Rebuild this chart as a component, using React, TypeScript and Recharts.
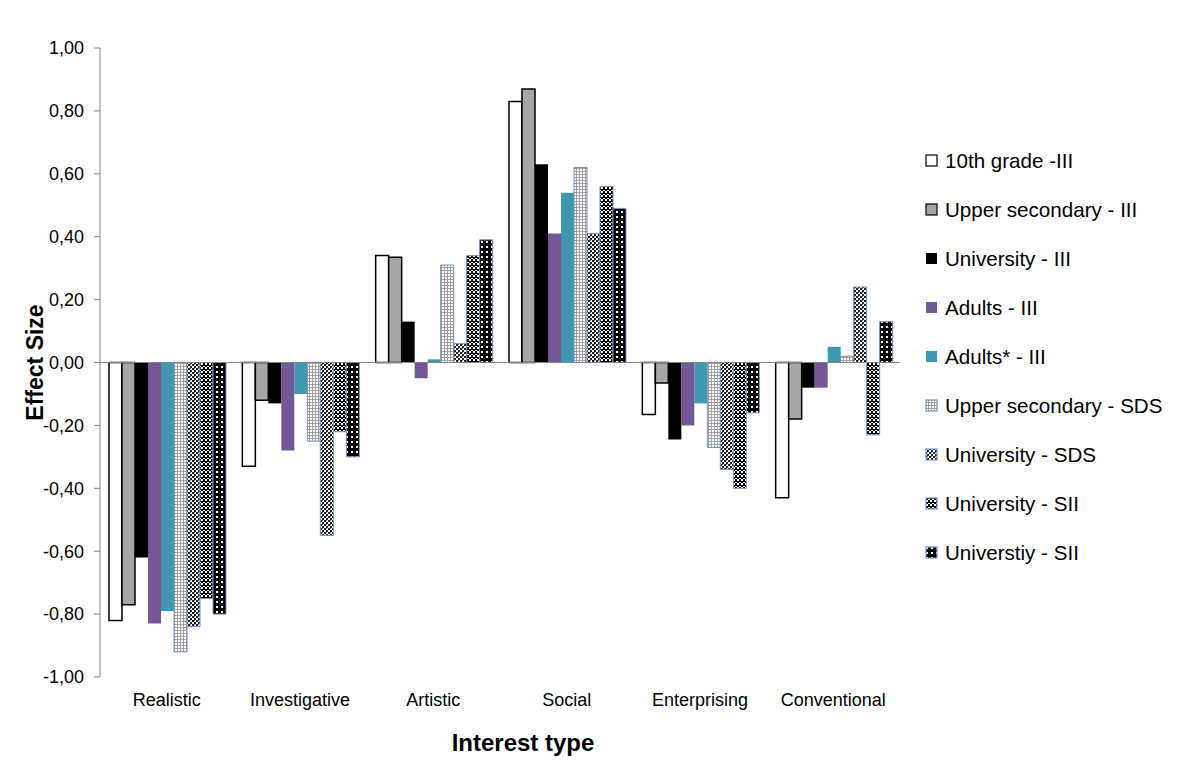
import React from 'react';
import { BarChart, Bar, XAxis, YAxis, ReferenceLine } from 'recharts';

const categories = ['Realistic', 'Investigative', 'Artistic', 'Social', 'Enterprising', 'Conventional'];

const tenthGradeIII = [-0.82, -0.33, 0.34, 0.83, -0.165, -0.43];
const upperSecondaryIII = [-0.77, -0.12, 0.335, 0.87, -0.065, -0.18];
const universityIII = [-0.62, -0.13, 0.13, 0.63, -0.245, -0.08];
const adultsIII = [-0.83, -0.28, -0.05, 0.41, -0.2, -0.08];
const adultsStarIII = [-0.79, -0.1, 0.01, 0.54, -0.13, 0.05];
const upperSecondarySDS = [-0.92, -0.25, 0.31, 0.62, -0.27, 0.02];
const universitySDS = [-0.84, -0.55, 0.06, 0.41, -0.34, 0.24];
const universitySII = [-0.75, -0.22, 0.34, 0.56, -0.4, -0.23];
const universtiySII = [-0.8, -0.3, 0.39, 0.49, -0.16, 0.13];

const yTicks = [-1, -0.8, -0.6, -0.4, -0.2, 0, 0.2, 0.4, 0.6, 0.8, 1];

const series = [
  { key: 's1', name: '10th grade -III', values: tenthGradeIII, fill: '#ffffff', stroke: '#000000', sw: 1.5 },
  { key: 's2', name: 'Upper secondary - III', values: upperSecondaryIII, fill: '#a6a6a6', stroke: '#000000', sw: 1.5 },
  { key: 's3', name: 'University - III', values: universityIII, fill: '#000000', stroke: 'none', sw: 0 },
  { key: 's4', name: 'Adults - III', values: adultsIII, fill: '#735895', stroke: 'none', sw: 0 },
  { key: 's5', name: 'Adults* - III', values: adultsStarIII, fill: '#3f98b0', stroke: 'none', sw: 0 },
  { key: 's6', name: 'Upper secondary - SDS', values: upperSecondarySDS, fill: 'url(#patLight)', stroke: '#6f93c4', sw: 1 },
  { key: 's7', name: 'University - SDS', values: universitySDS, fill: 'url(#patChecker)', stroke: '#6f93c4', sw: 1 },
  { key: 's8', name: 'University - SII', values: universitySII, fill: 'url(#patDiamond)', stroke: '#6f93c4', sw: 1 },
  { key: 's9', name: 'Universtiy - SII', values: universtiySII, fill: 'url(#patDots)', stroke: '#6f93c4', sw: 1 },
];

const data = categories.map((name, i) => {
  const row: any = { name };
  series.forEach((s) => {
    row[s.key] = s.values[i];
  });
  return row;
});

const font = '"Liberation Sans", Arial, sans-serif';

const fmt = (v: number) => (Math.abs(v) < 1e-9 ? '0,00' : v.toFixed(2).replace('.', ','));

const Patterns = () => (
  <svg width={0} height={0} style={{ position: 'absolute' }}>
    <defs>
      <pattern id="patLight" width={3} height={3} patternUnits="userSpaceOnUse">
        <rect width={3} height={3} fill="#ffffff" />
        <rect x={0} y={0} width={3} height={1} fill="#a0a0a0" />
        <rect x={0} y={0} width={1} height={3} fill="#a0a0a0" />
      </pattern>
      <pattern id="patChecker" width={4} height={4} patternUnits="userSpaceOnUse">
        <rect width={4} height={4} fill="#ffffff" />
        <rect x={0} y={0} width={2} height={2} fill="#222222" />
        <rect x={2} y={2} width={2} height={2} fill="#222222" />
        <rect x={2} y={0} width={1} height={1} fill="#777777" />
      </pattern>
      <pattern id="patDiamond" width={4} height={4} patternUnits="userSpaceOnUse">
        <rect width={4} height={4} fill="#000000" />
        <rect x={1} y={0} width={2} height={1} fill="#ffffff" />
        <rect x={0} y={2} width={1} height={1} fill="#ffffff" />
        <rect x={3} y={2} width={1} height={1} fill="#ffffff" />
        <rect x={1} y={3} width={2} height={1} fill="#ffffff" />
      </pattern>
      <pattern id="patDots" width={5} height={5} patternUnits="userSpaceOnUse">
        <rect width={5} height={5} fill="#000000" />
        <rect x={1} y={1} width={2} height={2} fill="#ffffff" />
      </pattern>
    </defs>
  </svg>
);

const LegendBox = () => (
  <div style={{ position: 'absolute', left: 925, top: 136, fontFamily: font, fontSize: 20.6, color: '#000' }}>
    {series.map((s) => (
      <div key={s.key} style={{ height: 49, display: 'flex', alignItems: 'center', whiteSpace: 'nowrap' }}>
        <svg width={13} height={13} style={{ marginRight: 7 }}>
          <rect
            x={1}
            y={1}
            width={11}
            height={11}
            fill={s.fill}
            stroke={s.stroke === 'none' ? s.fill : s.stroke}
            strokeWidth={s.stroke === 'none' ? 0 : 1.2}
          />
        </svg>
        <span>{s.name}</span>
      </div>
    ))}
  </div>
);

export default function App() {
  return (
    <div style={{ position: 'absolute', left: 0, top: 0, width: 1200, height: 775, background: '#fff', fontFamily: font }}>
      <Patterns />
      <BarChart
        width={1200}
        height={775}
        data={data}
        margin={{ top: 48, right: 300, bottom: 28, left: 0 }}
        barCategoryGap={9}
        barGap={0}
      >
        <YAxis
          width={100}
          domain={[-1, 1]}
          ticks={yTicks}
          interval={0}
          tickFormatter={fmt}
          axisLine={{ stroke: '#868686' }}
          tickLine={{ stroke: '#868686' }}
          tickSize={6}
          tickMargin={10}
          tick={{ fill: '#000', fontSize: 18, fontFamily: font }}
          label={{
            value: 'Effect Size',
            angle: -90,
            position: 'center',
            dx: -15,
            style: { fontSize: 23, fontWeight: 'bold', fill: '#000', fontFamily: font },
          }}
        />
        <XAxis
          dataKey="name"
          height={70}
          interval={0}
          axisLine={false}
          tickLine={false}
          tickSize={0}
          tickMargin={16}
          tick={{ fill: '#000', fontSize: 18, fontFamily: font }}
          label={{
            value: 'Interest type',
            position: 'center',
            dx: 23,
            dy: 30,
            style: { fontSize: 24, fontWeight: 'bold', fill: '#000', fontFamily: font },
          }}
        />
        <ReferenceLine y={0} stroke="#868686" strokeWidth={1} />
        {series.map((s) => (
          <Bar
            key={s.key}
            dataKey={s.key}
            name={s.name}
            fill={s.fill}
            stroke={s.stroke}
            strokeWidth={s.sw}
            isAnimationActive={false}
          />
        ))}
      </BarChart>
      <LegendBox />
    </div>
  );
}
